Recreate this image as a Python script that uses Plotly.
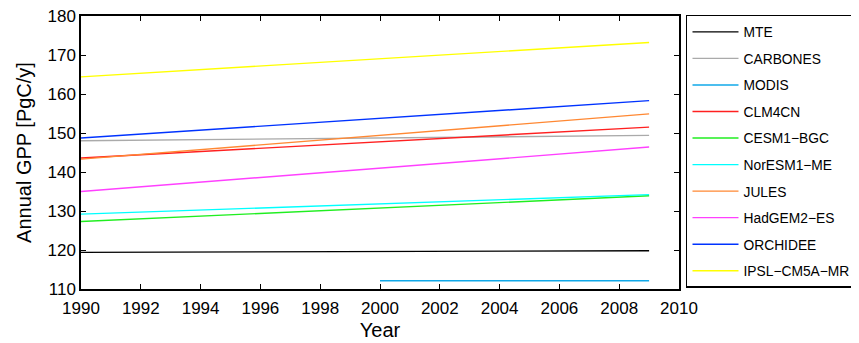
import plotly.graph_objects as go

years = [1990, 2009]
modis_years = [2000, 2009]

names = ["MTE", "CARBONES", "MODIS", "CLM4CN", "CESM1−BGC", "NorESM1−ME",
         "JULES", "HadGEM2−ES", "ORCHIDEE", "IPSL−CM5A−MR"]
mte = [119.4, 119.8]
carbones = [148.0, 149.4]
modis = [112.1, 112.1]
clm4cn = [143.6, 151.5]
cesm1 = [127.3, 133.9]
noresm = [129.2, 134.2]
jules = [143.3, 154.9]
hadgem = [135.0, 146.4]
orchidee = [148.7, 158.3]
ipsl = [164.4, 173.2]

colors = ["#000000", "#aaaaaa", "#10a8e8", "#ff2020", "#20ee20", "#00ffff",
          "#ff8833", "#ff40ff", "#0033ff", "#ffff00"]

series = [mte, carbones, modis, clm4cn, cesm1, noresm, jules, hadgem, orchidee, ipsl]
xs = [years, years, modis_years] + [years] * 7

FONT = "Liberation Sans, Arial, Helvetica, sans-serif"

fig = go.Figure()
for i, (n, v, x, c) in enumerate(zip(names, series, xs, colors)):
    fig.add_trace(go.Scatter(x=x, y=v, mode="lines", name=n,
                             line=dict(color=c, width=1.4),
                             legendgroup="g%d" % i))

axis_common = dict(showgrid=False, zeroline=False, showline=True, linecolor="black",
                   linewidth=1.5, mirror="ticks", ticks="inside", ticklen=5,
                   tickcolor="black", tickwidth=1, automargin=False,
                   ticklabeloverflow="allow",
                   tickfont=dict(family=FONT, size=17, color="black"))

fig.update_xaxes(range=[1990, 2010], dtick=2, tick0=1990, ticklabelstandoff=3,
                 title=dict(text="Year", font=dict(family=FONT, size=20, color="black"), standoff=6),
                 **axis_common)
fig.update_yaxes(range=[110, 180], dtick=10,
                 title=dict(text="Annual GPP [PgC/y]", font=dict(family=FONT, size=20, color="black"), standoff=10),
                 **axis_common)

fig.update_layout(
    width=851, height=335,
    margin=dict(l=73, r=180, t=8, b=54, autoexpand=False),
    plot_bgcolor="white", paper_bgcolor="white",
    legend=dict(x=1.0117, xanchor="left", y=1.004, yanchor="top",
                bordercolor="black", borderwidth=1.5, bgcolor="white",
                font=dict(family=FONT, size=13.8, color="black"),
                traceorder="grouped", tracegroupgap=5.6, itemwidth=46,
                maxheight=330),
)

fig.write_html("out.html")
